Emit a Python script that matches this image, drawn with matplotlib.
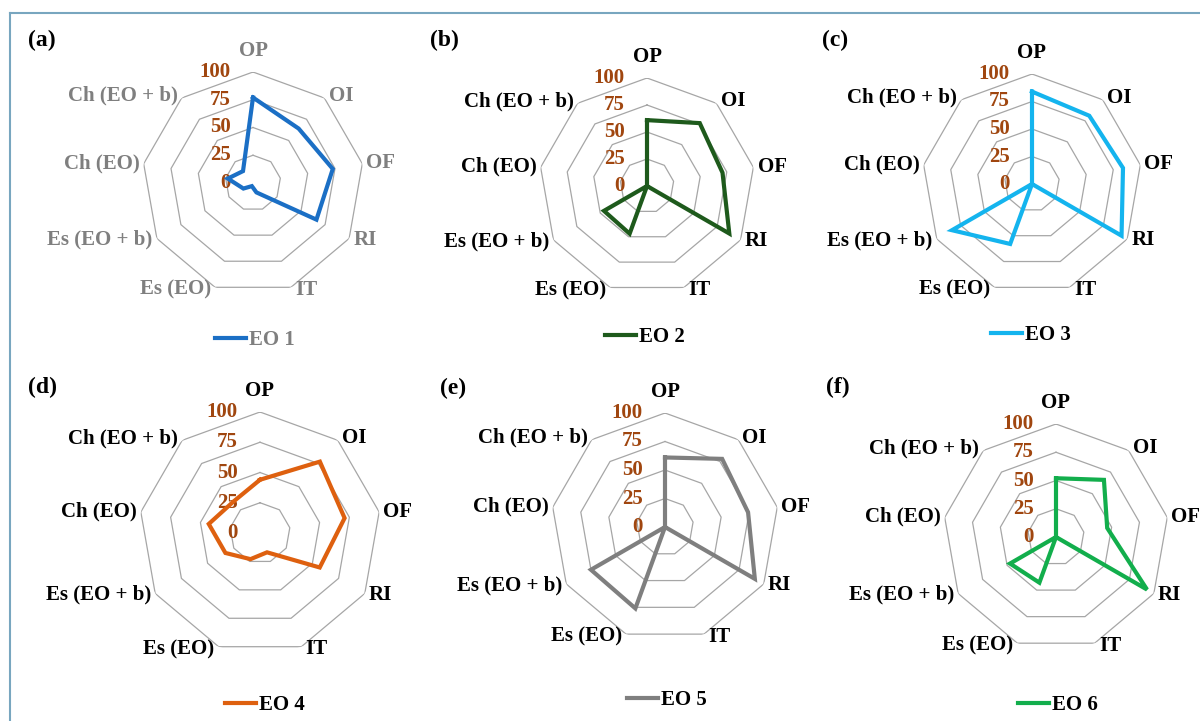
import numpy as np
import matplotlib
matplotlib.use('Agg')
import matplotlib.pyplot as plt
from matplotlib.lines import Line2D

categories = ['OP', 'OI', 'OF', 'RI', 'IT', 'Es (EO)', 'Es (EO + b)', 'Ch (EO)', 'Ch (EO + b)']
rings = [25, 50, 75, 100]
tick_labels = ['0', '25', '50', '75', '100']

eo1 = [77, 64, 73, 66, 9, 3, 10, 23, 14]
eo2 = [61, 76, 71, 88, 0, 47, 46, 0, 0]
eo3 = [84, 81, 84, 94, 0, 58, 84, 0, 0]
eo4 = [44, 77, 71, 57, 17, 23, 33, 43, 34]
eo5 = [61, 78, 74, 91, 0, 76, 75, 0, 0]
eo6 = [52, 66, 46, 93, 0, 43, 47, 0, 0]

series_names = ['EO 1', 'EO 2', 'EO 3', 'EO 4', 'EO 5', 'EO 6']
series_values = [eo1, eo2, eo3, eo4, eo5, eo6]
panel_tags = ['(a)', '(b)', '(c)', '(d)', '(e)', '(f)']

colors = ['#1b6fc5', '#1e5a1c', '#14b4ee', '#de600f', '#7f7f7f', '#12ae4c']
# (center x, center y, radius) in pixels, legend center, tag position
layout = [
    ((253, 183, 111), (255, 340), (28, 40)),
    ((647, 186, 108), (645, 337), (430, 40)),
    ((1032, 184, 110), (1031, 335), (822, 40)),
    ((260, 533, 121), (265, 705), (28, 387)),
    ((665, 527, 114), (667, 700), (440, 388)),
    ((1056, 537, 113), (1058, 705), (826, 387)),
]

W, H = 1200, 721
fig = plt.figure(figsize=(W / 100, H / 100), dpi=100)
fig.patch.set_facecolor('white')

font = 'Liberation Serif'
tick_color = '#a0460f'
grid_color = '#a6a6a6'

# light frame around the figure
fig.add_artist(Line2D([10 / W, 10 / W], [0, 1 - 13 / H], color='#78a6bf', lw=1.5))
fig.add_artist(Line2D([10 / W, 1], [1 - 13 / H, 1 - 13 / H], color='#78a6bf', lw=1.5))

n = len(categories)
theta = np.arange(n) * 2 * np.pi / n
theta_closed = np.append(theta, theta[0])

for i, vals in enumerate(series_values):
    (cx, cy, R), (lx, ly), (tx, ty) = layout[i]
    ax = fig.add_axes([(cx - R) / W, 1 - (cy + R) / H, 2 * R / W, 2 * R / H], projection='polar')
    ax.set_theta_offset(np.pi / 2)
    ax.set_theta_direction(-1)
    ax.set_ylim(0, 100)
    ax.set_axis_off()

    text_color = '#7f7f7f' if i == 0 else 'black'

    for r in rings:
        ax.plot(theta_closed, [r] * (n + 1), color=grid_color, lw=0.9, zorder=1)

    v = list(vals) + [vals[0]]
    line, = ax.plot(theta_closed, v, color=colors[i], lw=3.0, zorder=3,
                    solid_joinstyle='miter', label=series_names[i])

    for t, lab in zip(theta, categories):
        s, c = np.sin(t), np.cos(t)
        if abs(s) < 0.1:
            ha, va, off = 'center', 'bottom', (0, 8)
        else:
            ha = 'left' if s > 0 else 'right'
            va = 'center'
            off = (3 * np.sign(s), 2 * c)
        ax.annotate(lab, xy=(t, 100), xytext=off, textcoords='offset points',
                    ha=ha, va=va, fontsize=15, fontweight='bold', family=font,
                    color=text_color, annotation_clip=False)

    for r, lab in zip([0] + rings, tick_labels):
        ax.annotate(lab, xy=(0, r), xytext=(-16, 0), textcoords='offset points',
                    ha='right', va='center', fontsize=15, fontweight='bold',
                    family=font, color=tick_color, annotation_clip=False, zorder=2)

    leg = ax.legend(handles=[line], loc='center', bbox_to_anchor=(lx / W, 1 - ly / H),
                    bbox_transform=fig.transFigure, frameon=False,
                    handlelength=1.5, handletextpad=0.15,
                    prop={'family': font, 'weight': 'bold', 'size': 15},
                    labelcolor=text_color)

    fig.text(tx / W, 1 - ty / H, panel_tags[i], ha='left', va='center',
             fontsize=17, fontweight='bold', family=font, color='black')

fig.savefig('out.png', dpi=100)
